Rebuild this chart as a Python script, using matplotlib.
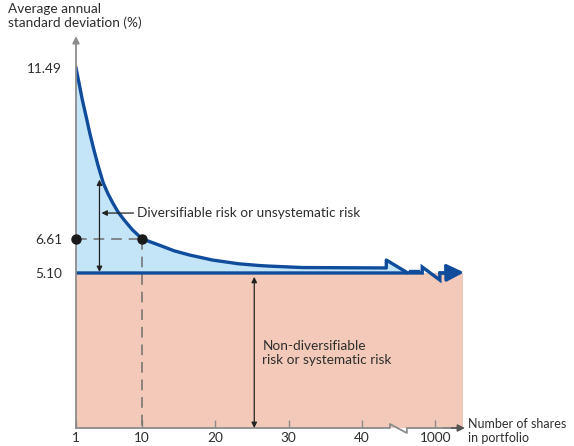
import numpy as np
import matplotlib
matplotlib.use("Agg")
import matplotlib.pyplot as plt
import matplotlib.transforms as mtransforms

plt.rcParams['font.family'] = ['Lato', 'DejaVu Sans']

# ---- data ----
curve_x = [1, 1.42, 1.86, 2.38, 2.9, 3.44, 4.05, 4.73, 5.37, 6.01, 6.75, 7.56, 8.7, 10,
           12.5, 14.4, 16.5, 19.6, 23.1, 25.8, 27.2, 31.8, 36.9, 43.3]
curve_y = [11.49, 11.14, 10.75, 10.34, 9.9, 9.47, 9.0, 8.51, 8.18, 7.89, 7.58, 7.31, 6.95, 6.61,
           6.34, 6.12, 5.94, 5.72, 5.55, 5.47, 5.44, 5.37, 5.36, 5.35]
systematic = 5.10
point_n = 10
point_sd = 6.61
ytick_vals = [5.10, 6.61, 11.49]
ytick_labels = ['5.10', '6.61', '11.49']
xtick_pos = [1, 10, 20, 30, 40, 50]
xtick_labels = ['1', '10', '20', '30', '40', '1000']

TXT = '#2e2e2e'
BLUE = '#0f4c9c'
LBLUE = '#c4e5f8'
ORANGE = '#f3cab9'
GREY = '#8c8c8c'
FS = 9.8

fig = plt.figure(figsize=(5.74, 4.46), dpi=100)
ax = fig.add_axes([76/574, 18/446, 389/574, 388/446])

fwd = lambda y: np.sign(y) * np.asarray(y) ** 2
inv = lambda f: np.sign(f) * np.sqrt(np.abs(f))
ax.set_yscale('function', functions=(fwd, inv))
ax.set_xlim(1, 54.03)
ax.set_ylim(-7.358, 12.103)
y0 = -7.358

for s in ax.spines.values():
    s.set_visible(False)

# fills
ax.fill_between([1, 53.76], y0, systematic, color=ORANGE, lw=0, zorder=1)
bx = curve_x + [43.3, 46.1, 47.6, 48.2, 48.2, 1]
by = curve_y + [5.72, 5.15, 5.2, 5.2, systematic, systematic]
ax.fill(bx, by, color=LBLUE, lw=0, zorder=1)

# curve with break
ax.plot(curve_x + [43.3, 46.1], curve_y + [5.72, 5.13], color=BLUE, lw=2.4,
        solid_joinstyle='round', zorder=4)
ax.plot([46.6, 47.6], [5.2, 5.2], color=BLUE, lw=2.4, zorder=4)
# systematic line with break
ax.plot([1, 48.2, 48.2, 50.6, 50.6, 51.5], [systematic, systematic, 5.395, 4.73, systematic, systematic],
        color=BLUE, lw=2.4, solid_joinstyle='miter', zorder=4)
ax.annotate('', xy=(53.9, 5.13), xytext=(50.6, systematic),
            arrowprops=dict(arrowstyle='-|>', color=BLUE, lw=2.4, mutation_scale=26,
                            shrinkA=0, shrinkB=0), zorder=5)

# dashed guides and points
ax.plot([1, point_n], [point_sd, point_sd], color='#6e6e6e', lw=1.1, dashes=(7, 4.5), zorder=3)
ax.plot([point_n, point_n], [point_sd, y0], color='#6e6e6e', lw=1.1, dashes=(7, 4.5), zorder=3)
ax.plot([1, point_n], [point_sd, point_sd], 'o', color='#1a1a1a', ms=6.5, clip_on=False, zorder=6)

# axes lines
trans = mtransforms.blended_transform_factory(ax.transData, ax.transAxes)
ax.plot([1, 43.8, 43.8, 46.1, 46.1, 52.0], [0, 0, 0.0103, -0.0129, 0, 0],
        color=GREY, lw=1.3, transform=trans, clip_on=False, zorder=5)
ax.annotate('', xy=(54.03, 0), xytext=(51.0, 0), xycoords=trans, textcoords=trans,
            arrowprops=dict(arrowstyle='-|>', color='#555555', lw=1.3, mutation_scale=10,
                            shrinkA=0, shrinkB=0))
ax.annotate('', xy=(0, 1.01), xytext=(0, 0), xycoords='axes fraction',
            arrowprops=dict(arrowstyle='-|>', color=GREY, lw=1.3, mutation_scale=10,
                            shrinkA=0, shrinkB=0), zorder=5)

# ticks
ax.set_xticks(xtick_pos)
ax.set_xticklabels(xtick_labels)
ax.set_yticks(ytick_vals)
ax.set_yticklabels(ytick_labels)
ax.tick_params(axis='x', direction='in', length=6, width=1, color=GREY, pad=3,
               labelsize=FS, labelcolor=TXT)
ax.tick_params(axis='y', length=0, pad=10, labelsize=FS, labelcolor=TXT)
for t in ax.xaxis.get_major_ticks():
    t.tick1line.set_zorder(6)

# annotations
ax.annotate('', xy=(4.2, 8.62), xytext=(4.2, 5.15),
            arrowprops=dict(arrowstyle='<|-|>', color='#222222', lw=0.9, mutation_scale=8,
                            shrinkA=0, shrinkB=0), zorder=6)
ax.annotate('', xy=(4.47, 7.55), xytext=(8.84, 7.55),
            arrowprops=dict(arrowstyle='-|>', color='#222222', lw=0.9, mutation_scale=8,
                            shrinkA=0, shrinkB=0), zorder=6)
ax.text(9.35, 7.55, 'Diversifiable risk or unsystematic risk', ha='left', va='center',
        fontsize=FS, color=TXT)
ax.annotate('', xy=(25.3, 4.90), xytext=(25.3, y0),
            arrowprops=dict(arrowstyle='<|-|>', color='#222222', lw=0.9, mutation_scale=8,
                            shrinkA=0, shrinkB=0), zorder=6)
ax.text(26.4, -3.92, 'Non-diversifiable\nrisk or systematic risk', ha='left', va='center',
        fontsize=FS, color=TXT, linespacing=1.2)

fig.text(8/574, 1 - 3/446, 'Average annual\nstandard deviation (%)', ha='left', va='top',
         fontsize=FS, color=TXT, linespacing=1.15)
fig.text(468/574, 1 - 431/446, 'Number of shares\nin portfolio', ha='left', va='center',
         fontsize=9.0, color=TXT, linespacing=1.2)

fig.savefig('out.png', dpi=100)
